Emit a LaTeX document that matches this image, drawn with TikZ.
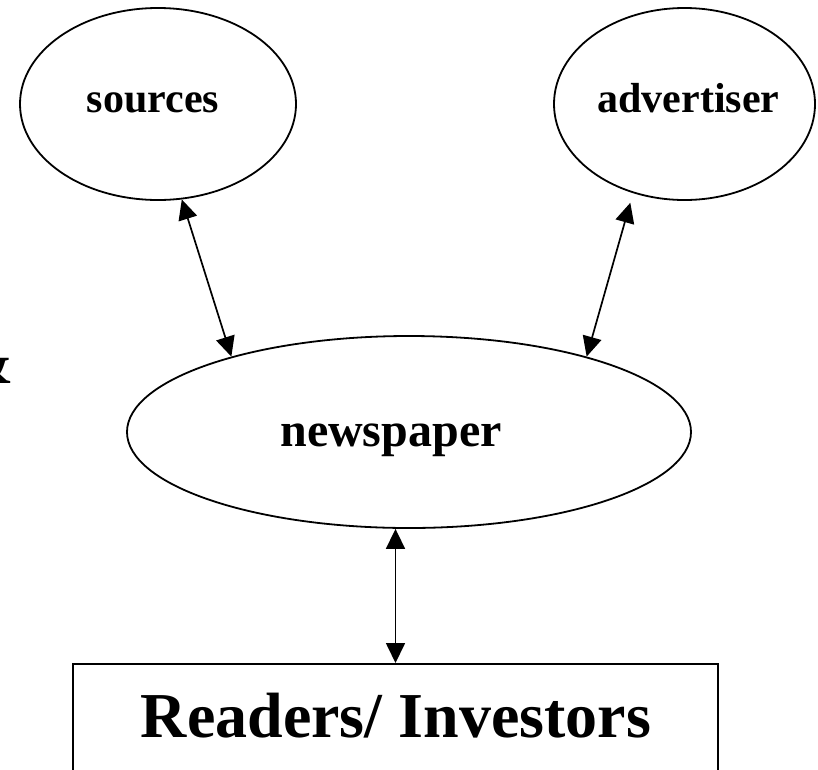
\documentclass[tikz,border=0pt]{standalone}
\usepackage{fontspec}
\setmainfont{Liberation Serif}
\usetikzlibrary{arrows.meta,shapes.geometric,calc}
\begin{document}
\begin{tikzpicture}[x=1pt,y=-1pt,
  oval/.style={ellipse,draw,line width=1.8pt,inner sep=0pt},
  lbl/.style={font=\bfseries\fontsize{42}{42}\selectfont,inner sep=0pt,anchor=base},
  arr/.style={line width=1.7pt,{Triangle[length=20pt,width=19pt]}-{Triangle[length=20pt,width=19pt]}},
]
\useasboundingbox (0,0) rectangle (818,769);
\clip (0,0) rectangle (818,769);

\node[oval,minimum width=276pt,minimum height=192pt] (src) at (158,104) {};
\node[oval,minimum width=261pt,minimum height=192pt] (adv) at (684.5,104) {};
\node[oval,minimum width=564pt,minimum height=192pt] (news) at (409,432) {};
\node[draw,line width=2pt,minimum width=645pt,minimum height=220pt,inner sep=0pt,anchor=north] (rd) at (395.5,663) {};

\node[lbl] (srcT) at (153,112) {sources};
\node[lbl] (advT) at (688.5,112) {advertiser};
\node[lbl,font=\bfseries\fontsize{48}{48}\selectfont] (newsT) at (391,446) {newspaper};
\node[lbl,font=\bfseries\fontsize{64}{64}\selectfont] (rdT) at (396,737) {Readers/ Investors};
\node[font=\bfseries\fontsize{64}{64}\selectfont,inner sep=0pt,anchor=base east] (amp) at (14,383) {\&};

\draw[arr] (src.-76) -- (news.157);
\draw[arr,shorten <=10pt] (adv.-120) -- (news.23.5);
\draw[arr] (rd.north |- news.south) -- (rd.north);
\end{tikzpicture}
\end{document}
